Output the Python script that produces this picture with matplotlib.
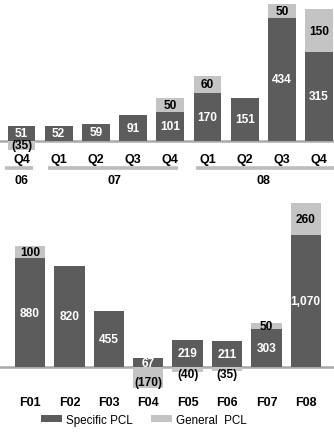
import matplotlib
matplotlib.use("Agg")
import matplotlib.pyplot as plt

plt.rcParams['font.family'] = ['Liberation Sans', 'DejaVu Sans']

# ---------------- data ----------------
top_categories = ['Q4', 'Q1', 'Q2', 'Q3', 'Q4', 'Q1', 'Q2', 'Q3', 'Q4']
top_specific = [51, 52, 59, 91, 101, 170, 151, 434, 315]
top_general = [-35, 0, 0, 0, 50, 60, 0, 50, 150]
years = ['06', '07', '08']
year_first = [0, 1, 5]
year_last = [0, 4, 8]

bottom_categories = ['F01', 'F02', 'F03', 'F04', 'F05', 'F06', 'F07', 'F08']
bottom_specific = [880, 820, 455, 67, 219, 211, 303, 1070]
bottom_general = [100, 0, 0, -170, -40, -35, 50, 260]

legend_labels = ['Specific PCL', 'General  PCL']

# ---------------- style ----------------
DARK = '#5c5c5c'
LIGHT = '#c4c4c4'
LINE = '#a9a9a9'
GROUP = '#bcbcbc'
W, H = 334, 439
VAL_FS = 8.6
AX_FS = 9

fig = plt.figure(figsize=(W / 100, H / 100), dpi=100)


def fmt(v):
    return f'({abs(v):,})' if v < 0 else f'{v:,}'


def axes_px(top, bottom):
    return fig.add_axes([0, 1 - bottom / H, 1, (bottom - top) / H])


def draw_panel(ax, cats, spec, gen, width, neg_offset):
    x = list(range(len(cats)))
    ax.axhline(0, color=LINE, lw=1.8, zorder=1)
    b1 = ax.bar(x, spec, width=width, color=DARK, zorder=2)
    gbottom = [s if g > 0 else 0 for s, g in zip(spec, gen)]
    b2 = ax.bar(x, gen, width=width, bottom=gbottom, color=LIGHT, zorder=2)
    for xi, s, g, gb in zip(x, spec, gen, gbottom):
        ax.text(xi, s / 2, fmt(s), ha='center', va='center', color='white',
                fontsize=VAL_FS, fontweight='bold', zorder=3)
        if g > 0:
            ax.text(xi, gb + g / 2, fmt(g), ha='center', va='center',
                    color='black', fontsize=VAL_FS, fontweight='bold', zorder=3)
        elif g < 0:
            ax.annotate(fmt(g), (xi, g / 2), xytext=(0, neg_offset),
                        textcoords='offset points', ha='center', va='center',
                        color='black', fontsize=VAL_FS, fontweight='bold',
                        zorder=3)
    ax.axis('off')
    return b1, b2


# ---------------- top panel ----------------
ax1 = axes_px(0, 155)
scale1 = 0.282  # px per unit
base1 = 141.5
ax1.set_ylim(-(155 - base1) / scale1, base1 / scale1)
sp1 = 37.2
c1 = 21.5
ax1.set_xlim(-c1 / sp1, (W - c1) / sp1)
draw_panel(ax1, top_categories, top_specific, top_general, 0.75, 0)

yq = -(160 - base1) / scale1
for i, c in enumerate(top_categories):
    ax1.text(i, yq, c, ha='center', va='center', fontsize=AX_FS,
             fontweight='bold', clip_on=False)
start_off = [-0.44, -0.29, -0.31]
end_off = [0.31, 0.21, 0.4]
yl = -(169 - base1) / scale1
yy = -(181.5 - base1) / scale1
for name, f, l, so, eo in zip(years, year_first, year_last, start_off, end_off):
    ax1.plot([f + so, l + eo], [yl, yl], color=GROUP, lw=2.6,
             solid_capstyle='butt', clip_on=False)
    ax1.text((f + l) / 2, yy, name, ha='center', va='center', fontsize=AX_FS,
             fontweight='bold', clip_on=False)

# ---------------- bottom panel ----------------
ax2 = axes_px(195, 395)
scale2 = 0.1231
base2 = 367.7
ax2.set_ylim(-(395 - base2) / scale2, (base2 - 195) / scale2)
sp2 = 39.4
c2 = 30
ax2.set_xlim(-c2 / sp2, (W - c2) / sp2)
h1, h2 = draw_panel(ax2, bottom_categories, bottom_specific, bottom_general,
                    0.77, -3.6)
yf = -(403.3 - base2) / scale2
for i, c in enumerate(bottom_categories):
    ax2.text(i, yf, c, ha='center', va='center', fontsize=AX_FS,
             fontweight='bold', clip_on=False)

fig.legend([h1, h2], legend_labels, loc='center',
           bbox_to_anchor=(144 / W, 1 - 420.7 / H), ncol=2, frameon=False,
           fontsize=8.4, handlelength=1.8, handleheight=0.6,
           handletextpad=0.35, columnspacing=1.6, borderpad=0,
           borderaxespad=0)

fig.savefig('out.png', dpi=100)
